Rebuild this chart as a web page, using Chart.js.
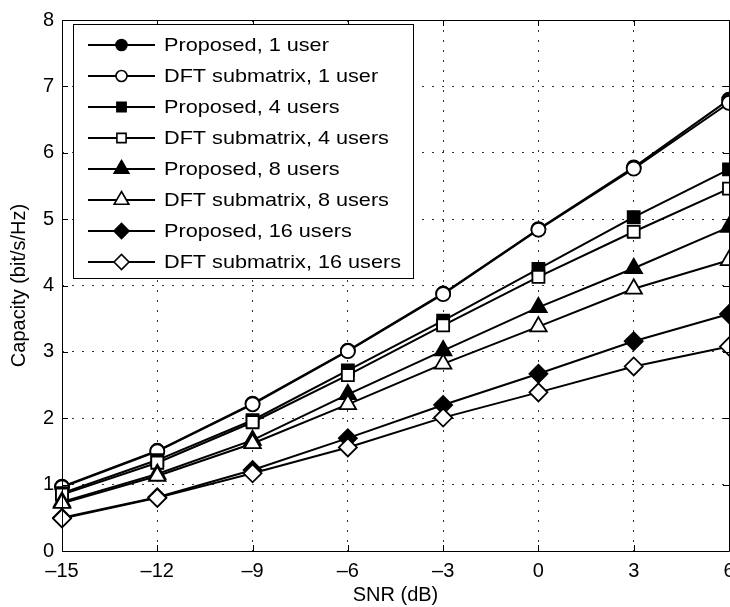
<!DOCTYPE html>
<html>
<head>
<meta charset="utf-8">
<script src="https://cdn.jsdelivr.net/npm/chart.js@4.4.1/dist/chart.umd.min.js"></script>
<style>
  html, body { margin: 0; padding: 0; background: #fff; overflow: hidden; }
  #wrap { width: 730px; height: 607px; overflow: hidden; }
</style>
</head>
<body>
<div id="wrap"><canvas id="capChart" width="760" height="607"></canvas></div>
<script>
// SNR values on the x axis (dB)
const snrDb = [-15, -12, -9, -6, -3, 0, 3, 6]

// Capacity (bit/s/Hz)
const proposed1 = [0.97, 1.51, 2.22, 3.02, 3.88, 4.85, 5.78, 6.80]
const dft1 = [0.96, 1.50, 2.21, 3.01, 3.87, 4.84, 5.76, 6.75]
const proposed4 = [0.87, 1.37, 1.97, 2.72, 3.47, 4.25, 5.03, 5.75]
const dft4 = [0.85, 1.33, 1.94, 2.65, 3.40, 4.13, 4.81, 5.46]
const proposed8 = [0.74, 1.16, 1.67, 2.36, 3.02, 3.67, 4.26, 4.88]
const dft8 = [0.72, 1.13, 1.62, 2.21, 2.82, 3.38, 3.95, 4.38]
const proposed16 = [0.50, 0.81, 1.22, 1.70, 2.20, 2.67, 3.16, 3.57]
const dft16 = [0.49, 0.80, 1.17, 1.56, 2.01, 2.39, 2.78, 3.08]

const seriesLabels = [
  "Proposed, 1 user", "DFT submatrix, 1 user",
  "Proposed, 4 users", "DFT submatrix, 4 users",
  "Proposed, 8 users", "DFT submatrix, 8 users",
  "Proposed, 16 users", "DFT submatrix, 16 users"
]
const seriesValues = [proposed1, dft1, proposed4, dft4, proposed8, dft8, proposed16, dft16]

const xTicks = [-15, -12, -9, -6, -3, 0, 3, 6]
const yTicks = [0, 1, 2, 3, 4, 5, 6, 7, 8]

const FONT = "'Liberation Sans', Arial, Helvetica, sans-serif"

// marker style per series: [pointStyle, radius, legend radius]
const markerStyles = [
  ["circle", 7, 5.5], ["circle", 7, 5.5],
  ["rect", 8.5, 6.5], ["rect", 8.5, 6.5],
  ["triangle", 9.5, 8.5], ["triangle", 9.5, 8.5],
  ["rectRot", 9, 7.5], ["rectRot", 9, 7.5]
]

const datasets = seriesValues.map((vals, i) => {
  const filled = i % 2 === 0
  return {
    label: seriesLabels[i],
    data: snrDb.map((x, k) => ({ x: x, y: vals[k] })),
    borderColor: "#000",
    borderWidth: 2,
    pointStyle: markerStyles[i][0],
    pointRadius: markerStyles[i][1],
    pointBackgroundColor: filled ? "#000" : "#fff",
    pointBorderColor: "#000",
    pointBorderWidth: 1.8,
    tension: 0,
    fill: false,
    clip: false,
    order: seriesValues.length - i
  }
})

function drawMarker(ctx, style, r, x, y, filled) {
  ctx.save()
  ctx.fillStyle = filled ? "#000" : "#fff"
  ctx.strokeStyle = "#000"
  ctx.lineWidth = 1.6
  ctx.beginPath()
  if (style === "circle") {
    ctx.arc(x, y, r, 0, Math.PI * 2)
  } else if (style === "rect") {
    const s = r * Math.SQRT1_2
    ctx.rect(x - s, y - s, 2 * s, 2 * s)
  } else if (style === "triangle") {
    ctx.moveTo(x, y - r)
    ctx.lineTo(x + r * Math.sin(Math.PI / 3), y + r / 2)
    ctx.lineTo(x - r * Math.sin(Math.PI / 3), y + r / 2)
  } else {
    ctx.moveTo(x - r, y)
    ctx.lineTo(x, y - r)
    ctx.lineTo(x + r, y)
    ctx.lineTo(x, y + r)
  }
  ctx.closePath()
  ctx.fill()
  ctx.stroke()
  ctx.restore()
}

// box, inward ticks and legend, drawn like the MATLAB figure
const matlabFrame = {
  id: "matlabFrame",
  afterDatasetsDraw(chart) {
    const ctx = chart.ctx
    const a = chart.chartArea
    const xs = chart.scales.x
    const ys = chart.scales.y

    ctx.save()
    ctx.strokeStyle = "#000"
    ctx.lineWidth = 1
    ctx.beginPath()
    xTicks.forEach(v => {
      const px = Math.round(xs.getPixelForValue(v)) + 0.5
      ctx.moveTo(px, a.bottom); ctx.lineTo(px, a.bottom - 6)
      ctx.moveTo(px, a.top); ctx.lineTo(px, a.top + 6)
    })
    yTicks.forEach(v => {
      const py = Math.round(ys.getPixelForValue(v)) + 0.5
      ctx.moveTo(a.left, py); ctx.lineTo(a.left + 6, py)
      ctx.moveTo(a.right, py); ctx.lineTo(a.right - 6, py)
    })
    ctx.stroke()
    ctx.beginPath()
    ctx.rect(Math.round(a.left) + 0.5, Math.round(a.top) + 0.5,
      Math.round(a.right - a.left), Math.round(a.bottom - a.top))
    ctx.stroke()

    // legend
    const lx = 73, ly = 24, lw = 340, lh = 254
    ctx.fillStyle = "#fff"
    ctx.fillRect(lx, ly, lw, lh)
    ctx.strokeRect(lx + 0.5, ly + 0.5, lw, lh)
    ctx.textBaseline = "middle"
    ctx.textAlign = "left"
    seriesLabels.forEach((label, i) => {
      const y = 45 + i * 31
      ctx.strokeStyle = "#000"
      ctx.lineWidth = 2
      ctx.beginPath()
      ctx.moveTo(88, y); ctx.lineTo(155, y)
      ctx.stroke()
      drawMarker(ctx, markerStyles[i][0], markerStyles[i][2], 121.5, y, i % 2 === 0)
      // legend text is a bit wider than plain Arial in the figure
      ctx.save()
      ctx.translate(164, y + 1)
      ctx.scale(1.17, 1)
      ctx.font = "18.5px " + FONT
      ctx.fillStyle = "#000"
      ctx.fillText(label, 0, 0)
      ctx.restore()
    })
    ctx.restore()
  }
}

new Chart(document.getElementById("capChart"), {
  type: "line",
  data: { datasets: datasets },
  options: {
    responsive: false,
    animation: false,
    devicePixelRatio: 1,
    layout: { padding: { left: 0, top: 16, right: 31, bottom: 0 } },
    plugins: {
      legend: { display: false },
      tooltip: { enabled: false }
    },
    scales: {
      x: {
        type: "linear",
        min: -15,
        max: 6,
        afterBuildTicks: (scale) => { scale.ticks = xTicks.map(v => ({ value: v })) },
        afterFit: (scale) => { scale.height = 56 },
        ticks: {
          color: "#000",
          font: { family: FONT, size: 20 },
          padding: 8,
          maxRotation: 0,
          callback: (v) => v < 0 ? "\u2013" + Math.abs(v) : String(v)
        },
        grid: { color: "#333", lineWidth: 1, drawTicks: false },
        border: { display: false, dash: [2, 8] },
        title: {
          display: true,
          text: "SNR (dB)",
          color: "#000",
          font: { family: FONT, size: 20 },
          padding: { top: 0, bottom: 0 }
        }
      },
      y: {
        type: "linear",
        min: 0,
        max: 8,
        afterBuildTicks: (scale) => { scale.ticks = yTicks.map(v => ({ value: v })) },
        afterFit: (scale) => { scale.width = 62 },
        ticks: {
          color: "#000",
          font: { family: FONT, size: 20 },
          padding: 8
        },
        grid: { color: "#333", lineWidth: 1, drawTicks: false },
        border: { display: false, dash: [2, 8] },
        title: {
          display: true,
          text: "Capacity (bit/s/Hz)",
          color: "#000",
          font: { family: FONT, size: 20 },
          padding: { top: 7, bottom: 0 }
        }
      }
    }
  },
  plugins: [matlabFrame]
})
</script>
</body>
</html>
